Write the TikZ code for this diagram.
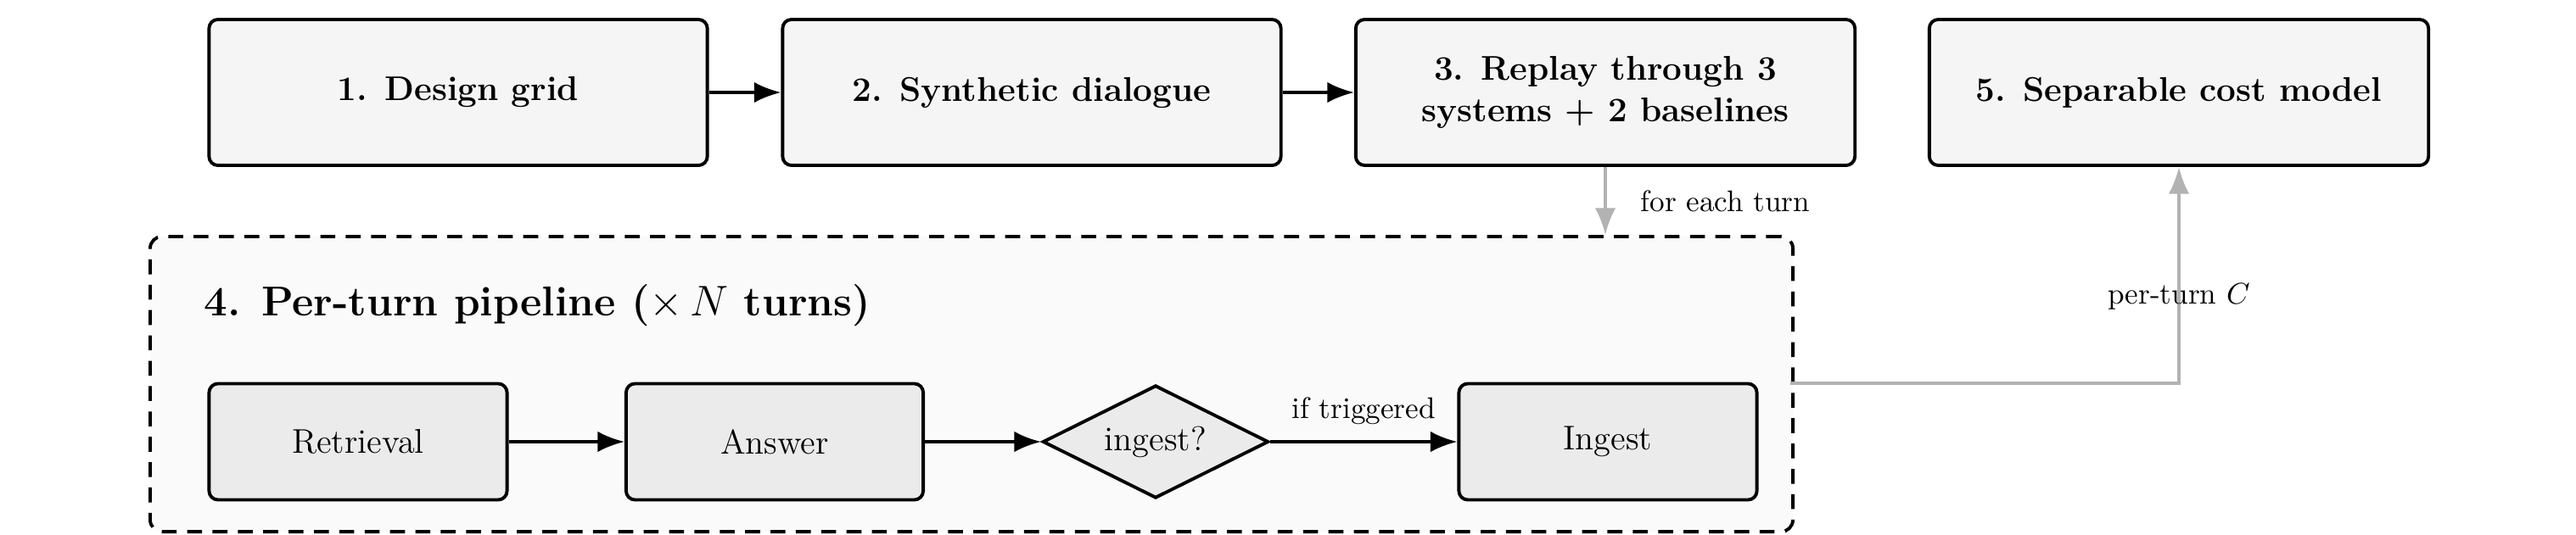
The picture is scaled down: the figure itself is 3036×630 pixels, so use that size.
\documentclass[tikz,border=0pt]{standalone}
\usetikzlibrary{shapes.geometric,arrows.meta}
\begin{document}
\begin{tikzpicture}[x=0.01cm,y=-0.01cm,
  topbox/.style={draw,line width=1.1pt,rounded corners=3pt,fill=black!4,font=\bfseries\fontsize{11.5}{14}\selectfont,align=center},
  inbox/.style={draw,line width=1.1pt,rounded corners=3pt,fill=black!8,font=\fontsize{11.5}{14}\selectfont},
  arr/.style={-{Latex[length=9pt,width=7pt]},line width=1.1pt},
  garr/.style={-{Latex[length=9pt,width=7pt]},line width=1.1pt,draw=black!30},
  lab/.style={font=\fontsize{10}{12}\selectfont}]
\useasboundingbox (0,0) rectangle (3036,630);
\node[draw,dash pattern=on 5pt off 3.5pt,line width=1.1pt,rounded corners=4pt,fill=black!2,minimum width=19.35cm,minimum height=3.48cm,anchor=north west] (pipe) at (175,277) {};
\node[topbox,minimum width=5.87cm,minimum height=1.72cm] (b1) at (540,109) {1. Design grid};
\node[topbox,minimum width=5.87cm,minimum height=1.72cm] (b2) at (1216,109) {2. Synthetic dialogue};
\node[topbox,minimum width=5.88cm,minimum height=1.72cm] (b3) at (1892,109) {3. Replay through 3\\systems + 2 baselines};
\node[topbox,minimum width=5.88cm,minimum height=1.72cm] (b5) at (2568,109) {5. Separable cost model};
\node[anchor=west,font=\bfseries\fontsize{14}{17}\selectfont] (ttl) at (228,360) {4. Per-turn pipeline ($\times\,N$ turns)};
\node[inbox,minimum width=3.51cm,minimum height=1.37cm] (r) at (422,521) {Retrieval};
\node[inbox,minimum width=3.50cm,minimum height=1.37cm] (a) at (913,521) {Answer};
\node[diamond,draw,line width=1.1pt,fill=black!8,aspect=2,minimum width=2.66cm,minimum height=1.33cm,inner sep=0pt,font=\fontsize{11.5}{14}\selectfont] (d) at (1362,521) {ingest?};
\node[inbox,minimum width=3.51cm,minimum height=1.37cm] (g) at (1895,521) {Ingest};
\draw[arr] (b1) -- (b2);
\draw[arr] (b2) -- (b3);
\draw[arr] (r) -- (a);
\draw[arr] (a) -- (d);
\draw[arr] (d) -- node[lab,above=2pt] {if triggered} (g);
\draw[garr] (b3.south) -- node[lab,right=8pt] {for each turn} (pipe.north west -| b3.south);
\coordinate (c1) at (2110,452);
\draw[garr] (c1) -| node[lab,pos=0.7] {per-turn $C$} (b5.south);
\end{tikzpicture}
\end{document}
